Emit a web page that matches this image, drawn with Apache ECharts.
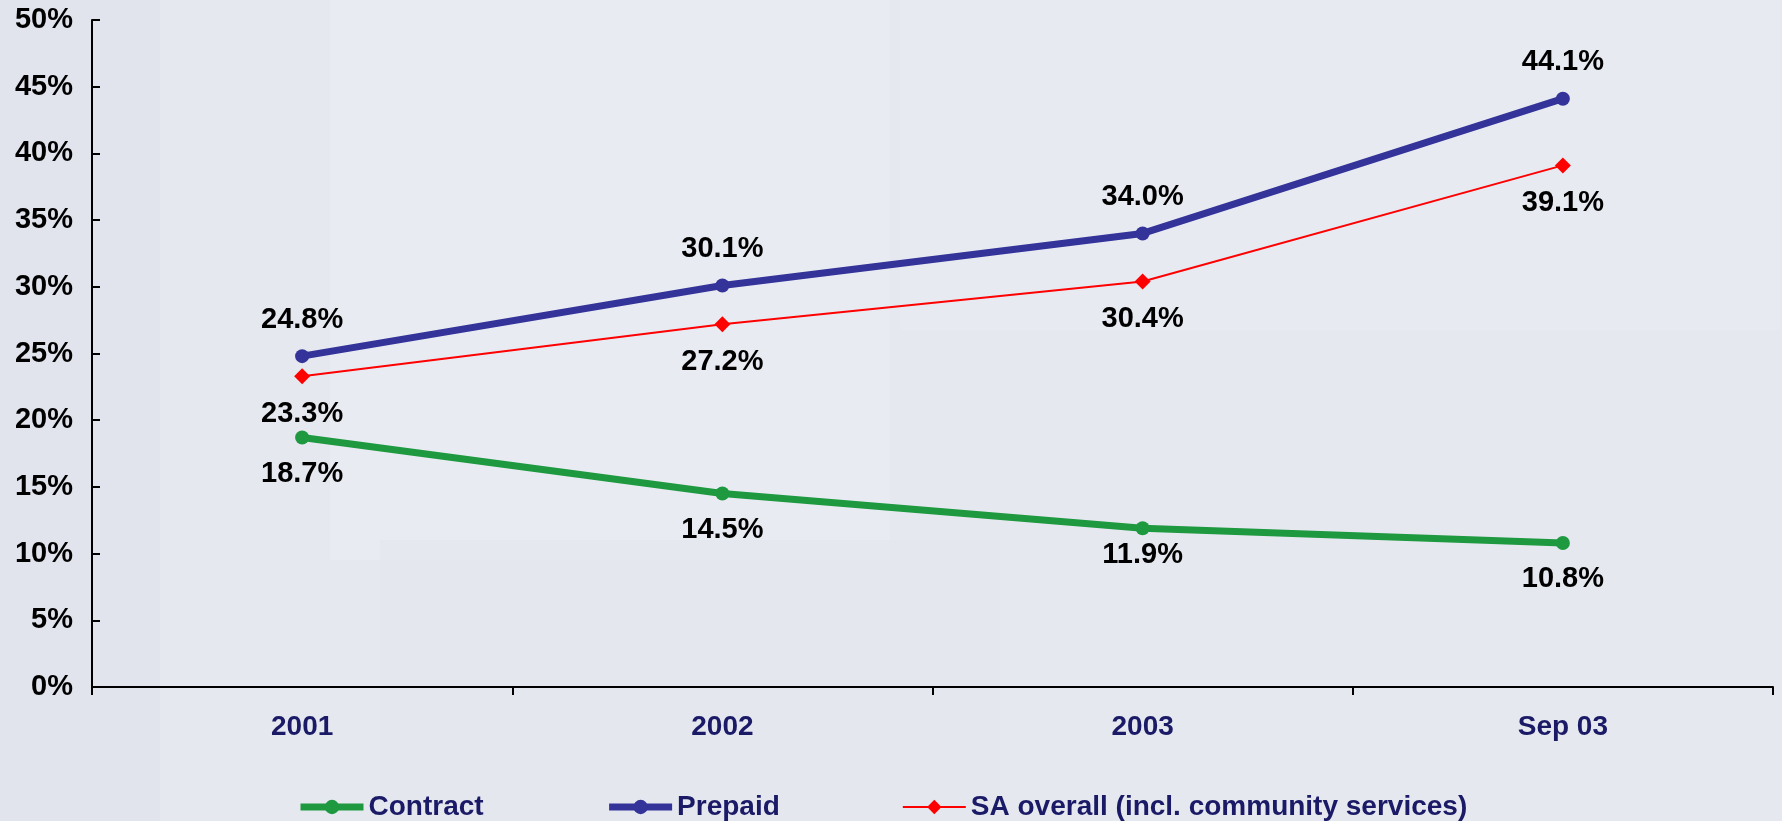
<!DOCTYPE html>
<html>
<head>
<meta charset="utf-8">
<script src="https://cdn.jsdelivr.net/npm/echarts@6/dist/echarts.min.js"></script>
<style>
  html, body { margin: 0; padding: 0; background: #e6e8f0; }
  #main { width: 1782px; height: 821px; }
</style>
</head>
<body>
<div id="main"></div>
<script>
var categories = ["2001", "2002", "2003", "Sep 03"];
var contract = [18.7, 14.5, 11.9, 10.8];
var prepaid = [24.8, 30.1, 34.0, 44.1];
var saOverall = [23.3, 27.2, 30.4, 39.1];
var yTicks = [0, 5, 10, 15, 20, 25, 30, 35, 40, 45, 50];

var font = "Liberation Sans, Arial, sans-serif";
var labelStyle = {
  show: true,
  fontFamily: font,
  fontWeight: "bold",
  fontSize: 29,
  color: "#000",
  distance: 15,
  formatter: function (p) { return p.value.toFixed(1) + "%"; }
};

var myChart = echarts.init(document.getElementById("main"));
myChart.setOption({
  backgroundColor: "#e6e8f0",
  animation: false,
  // faint panels like the slide background
  graphic: [
    { type: "rect", shape: { x: 0, y: 0, width: 160, height: 821 }, style: { fill: "rgba(220,223,232,0.5)" }, z: -10 },
    { type: "rect", shape: { x: 330, y: 0, width: 560, height: 560 }, style: { fill: "rgba(236,238,245,0.5)" }, z: -10 },
    { type: "rect", shape: { x: 900, y: 0, width: 880, height: 330 }, style: { fill: "rgba(234,236,244,0.5)" }, z: -10 },
    { type: "rect", shape: { x: 380, y: 540, width: 620, height: 281 }, style: { fill: "rgba(228,230,238,0.5)" }, z: -10 }
  ],
  grid: { left: 92, right: 9, top: 20, bottom: 134 },
  legend: {
    left: 292,
    top: 788,
    itemWidth: 63,
    itemHeight: 18,
    itemGap: 122,
    textStyle: { fontFamily: font, fontWeight: "bold", fontSize: 28, color: "#1a1a66" },
    data: [
      { name: "Contract", lineStyle: { width: 7 } },
      { name: "Prepaid", lineStyle: { width: 7 } },
      { name: "SA overall (incl. community services)", lineStyle: { width: 2 } }
    ]
  },
  xAxis: {
    type: "category",
    data: categories,
    boundaryGap: true,
    axisLine: { lineStyle: { color: "#000", width: 2 } },
    axisTick: { show: true, inside: false, length: 8, lineStyle: { color: "#000", width: 2 } },
    axisLabel: { margin: 26, fontFamily: font, fontWeight: "bold", fontSize: 28, color: "#1a1a66" },
    splitLine: { show: false }
  },
  yAxis: {
    type: "value",
    min: yTicks[0],
    max: yTicks[yTicks.length - 1],
    interval: 5,
    axisLine: { show: true, lineStyle: { color: "#000", width: 2 } },
    axisTick: { show: true, inside: true, length: 8, lineStyle: { color: "#000", width: 2 } },
    axisLabel: { margin: 19, fontFamily: font, fontWeight: "bold", fontSize: 29, color: "#000", formatter: "{value}%" },
    splitLine: { show: false }
  },
  series: [
    {
      name: "Contract",
      type: "line",
      data: contract.map(function (v, i) {
        return i === 2 ? { value: v, label: { distance: 5 } } : v;
      }),
      color: "#1e9940",
      lineStyle: { width: 7, color: "#1e9940" },
      symbol: "circle",
      symbolSize: 14,
      label: Object.assign({}, labelStyle, { position: "bottom" }),
      z: 3
    },
    {
      name: "Prepaid",
      type: "line",
      data: prepaid,
      color: "#333399",
      lineStyle: { width: 7, color: "#333399" },
      symbol: "circle",
      symbolSize: 14,
      label: Object.assign({}, labelStyle, { position: "top" }),
      z: 3
    },
    {
      name: "SA overall (incl. community services)",
      type: "line",
      data: saOverall,
      color: "#ff0000",
      lineStyle: { width: 2, color: "#ff0000" },
      symbol: "diamond",
      symbolSize: 16,
      label: Object.assign({}, labelStyle, { position: "bottom" }),
      z: 4
    }
  ]
});
</script>
</body>
</html>
